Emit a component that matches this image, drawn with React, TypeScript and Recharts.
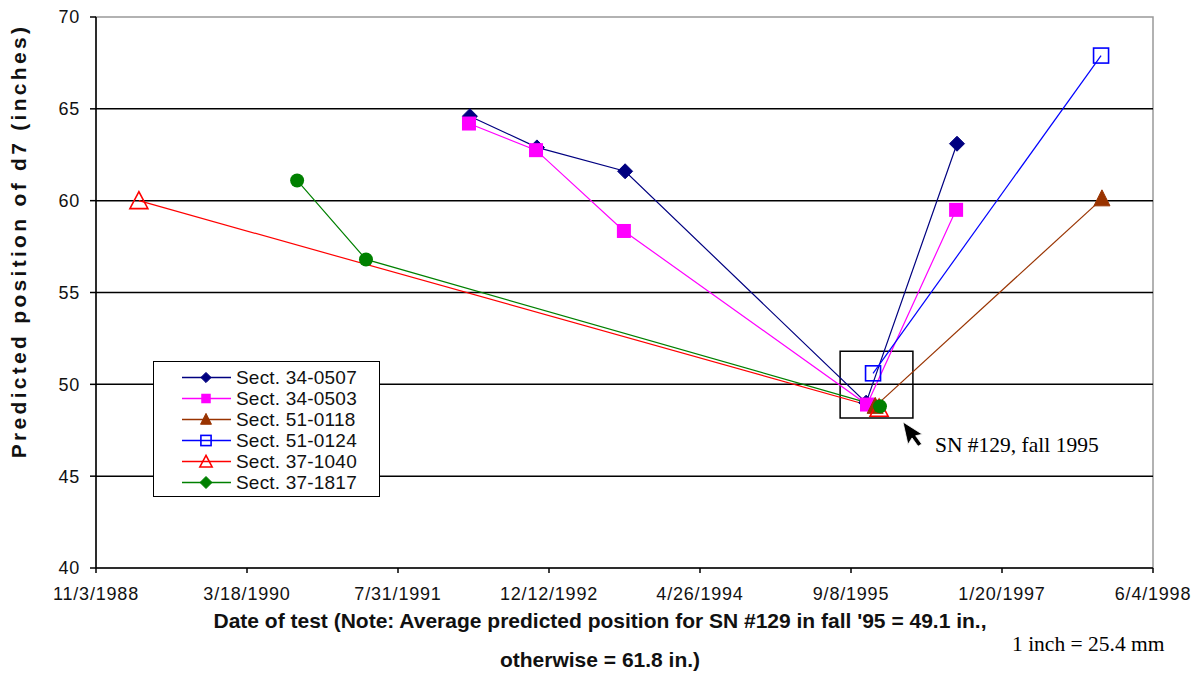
import React from 'react';
import { LineChart, Line, XAxis, YAxis, ReferenceLine, ReferenceArea, ReferenceDot, Legend } from 'recharts';

// x values are days after 11/3/1988 (axis origin)
const xTicks = [0, 500, 1000, 1500, 2000, 2500, 3000, 3500];
const xTickLabels = ['11/3/1988', '3/18/1990', '7/31/1991', '12/12/1992', '4/26/1994', '9/8/1995', '1/20/1997', '6/4/1998'];
const yTicks = [40, 45, 50, 55, 60, 65, 70];
const gridValues = [45, 50, 55, 60, 65];

const s34_0507_x = [1238, 1460, 1752, 2550, 2851];
const s34_0507_y = [64.6, 62.9, 61.6, 49.0, 63.1];
const s34_0503_x = [1235, 1457, 1748, 2553, 2848];
const s34_0503_y = [64.2, 62.75, 58.35, 48.9, 59.5];
const s51_0118_x = [2580, 3331];
const s51_0118_y = [48.8, 60.1];
const s51_0124_x = [2573, 3328];
const s51_0124_y = [50.6, 67.9];
const s37_1040_x = [142, 2593];
const s37_1040_y = [60.0, 48.7];
const s37_1817_x = [666, 894, 2596];
const s37_1817_y = [61.1, 56.8, 48.8];

const seriesNames = ['Sect. 34-0507', 'Sect. 34-0503', 'Sect. 51-0118', 'Sect. 51-0124', 'Sect. 37-1040', 'Sect. 37-1817'];
const seriesColors = ['#000080', '#FF00FF', '#993300', '#0000FF', '#FF0000', '#008000'];
const seriesMarkers = ['diamond', 'square', 'triangle', 'openSquare', 'openTriangle', 'blob'];
const seriesX = [s34_0507_x, s34_0503_x, s51_0118_x, s51_0124_x, s37_1040_x, s37_1817_x];
const seriesY = [s34_0507_y, s34_0503_y, s51_0118_y, s51_0124_y, s37_1040_y, s37_1817_y];

const series = seriesNames.map((name, i) => ({
  name,
  color: seriesColors[i],
  marker: seriesMarkers[i],
  data: seriesX[i].map((x, j) => ({ x, y: seriesY[i][j] })),
}));

function Marker({ type, cx, cy, color, s }: { type: string; cx: number; cy: number; color: string; s: number }) {
  if (type === 'diamond') {
    const r = 7.5 * s;
    return <polygon points={`${cx},${cy - r} ${cx + r},${cy} ${cx},${cy + r} ${cx - r},${cy}`} fill={color} stroke={color} />;
  }
  if (type === 'square') {
    const h = 7 * s;
    return <rect x={cx - h} y={cy - h} width={2 * h} height={2 * h} fill={color} />;
  }
  if (type === 'triangle') {
    return <polygon points={`${cx},${cy - 9 * s} ${cx + 8 * s},${cy + 7 * s} ${cx - 8 * s},${cy + 7 * s}`} fill={color} stroke={color} />;
  }
  if (type === 'openSquare') {
    const h = 7.5 * s;
    return <rect x={cx - h} y={cy - h} width={2 * h} height={2 * h} fill="none" stroke={color} strokeWidth={1.6} />;
  }
  if (type === 'openTriangle') {
    return <polygon points={`${cx},${cy - 9 * s} ${cx + 9 * s},${cy + 8 * s} ${cx - 9 * s},${cy + 8 * s}`} fill="none" stroke={color} strokeWidth={1.6} />;
  }
  if (s < 1) {
    const r = 6;
    return <polygon points={`${cx},${cy - r} ${cx + r},${cy} ${cx},${cy + r} ${cx - r},${cy}`} fill={color} stroke={color} />;
  }
  return <circle cx={cx} cy={cy} r={7} fill={color} />;
}

const makeDot = (type: string, color: string) => (props: any) => {
  const { cx, cy, index } = props;
  if (cx == null || cy == null) return <g key={`d${index}`} />;
  return <Marker key={`d${index}`} type={type} cx={cx} cy={cy} color={color} s={1} />;
};

const ArrowShape = (props: any) => {
  const { cx, cy } = props;
  if (cx == null) return <g />;
  // cursor-like arrow pointing up-left, tip at (cx, cy)
  const ang = -0.22;
  const sc = 1.35;
  const p = [
    [0, 0], [0, 17], [4, 13], [7, 20], [10, 19], [7, 12], [12, 12],
  ].map(([a, b]) => {
    const x = (a * Math.cos(ang) - b * Math.sin(ang)) * sc;
    const y = (a * Math.sin(ang) + b * Math.cos(ang)) * sc;
    return `${cx + x},${cy + y}`;
  }).join(' ');
  return <polygon points={p} fill="#000" stroke="#fff" strokeWidth={0.8} />;
};

const LegendContent = () => (
  <div style={{ width: 227, height: 136, border: '1.5px solid #000', background: '#fff', boxSizing: 'border-box', paddingTop: 5 }}>
    {series.map((s) => (
      <div key={s.name} style={{ height: 21, display: 'flex', alignItems: 'center' }}>
        <svg width={82} height={21} style={{ flex: 'none' }}>
          <line x1={28} x2={77} y1={10.5} y2={10.5} stroke={s.color} strokeWidth={1.3} />
          <Marker type={s.marker} cx={52} cy={10.5} color={s.color} s={0.68} />
        </svg>
        <span style={{ fontFamily: 'Liberation Sans, Arial, sans-serif', fontSize: 19, color: '#111', letterSpacing: 0.2, whiteSpace: 'nowrap' }}>{s.name}</span>
      </div>
    ))}
  </div>
);

const tickStyle = { fontFamily: 'Liberation Sans, Arial, sans-serif', fontSize: 18, fill: '#111', letterSpacing: 0.8 };

export default function App() {
  return (
    <div style={{ position: 'absolute', left: 0, top: 0, width: 1201, height: 674, background: '#fff', overflow: 'hidden' }}>
      <LineChart width={1201} height={674} margin={{ top: 17, right: 48, bottom: 76, left: 36 }}>
        <XAxis
          dataKey="x"
          type="number"
          domain={[0, 3500]}
          ticks={xTicks}
          tickFormatter={(v: number) => xTickLabels[xTicks.indexOf(v)] ?? ''}
          height={30}
          tickSize={5}
          tickMargin={14}
          tick={tickStyle}
          axisLine={{ stroke: '#000', strokeWidth: 1.5 }}
          tickLine={{ stroke: '#000', strokeWidth: 1.5 }}
          allowDataOverflow
        />
        <YAxis
          dataKey="y"
          type="number"
          domain={[40, 70]}
          ticks={yTicks}
          width={60}
          tickSize={6}
          tickMargin={10}
          tick={tickStyle}
          axisLine={{ stroke: '#000', strokeWidth: 1.5 }}
          tickLine={{ stroke: '#000', strokeWidth: 1.5 }}
          allowDataOverflow
        />
        <ReferenceArea x1={0} x2={3500} y1={40} y2={70} fill="none" stroke="#999" strokeWidth={1.5} />
        {gridValues.map((v) => (
          <ReferenceLine key={v} y={v} stroke="#000" strokeWidth={1.5} />
        ))}
        <Legend layout="vertical" align="center" verticalAlign="middle" content={<LegendContent />}
          wrapperStyle={{ left: 153, top: 361, width: 227, height: 136 }} />
        {series.map((s) => (
          <Line
            key={s.name}
            data={s.data}
            dataKey="y"
            name={s.name}
            type="linear"
            stroke={s.color}
            strokeWidth={1.2}
            dot={makeDot(s.marker, s.color)}
            activeDot={false}
            isAnimationActive={false}
            legendType="none"
          />
        ))}
        <ReferenceArea x1={2464} x2={2705} y1={48.17} y2={51.8} fill="none" stroke="#000" strokeWidth={1.5} ifOverflow="visible" />
        <ReferenceDot x={2672} y={47.95} shape={ArrowShape} ifOverflow="visible" />
      </LineChart>
      <div style={{ position: 'absolute', left: 935, top: 434, lineHeight: '22px', fontFamily: 'Liberation Serif, Times New Roman, serif', fontSize: 21.5, color: '#000', whiteSpace: 'nowrap' }}>
        SN #129, fall 1995
      </div>
      <div style={{ position: 'absolute', left: 1012, top: 633, lineHeight: '22px', fontFamily: 'Liberation Serif, Times New Roman, serif', fontSize: 21.5, color: '#000', whiteSpace: 'nowrap' }}>
        1 inch = 25.4 mm
      </div>
      <div style={{ position: 'absolute', left: 200, width: 800, top: 601, textAlign: 'center', fontFamily: 'Liberation Sans, Arial, sans-serif', fontWeight: 'bold', fontSize: 21, lineHeight: '39px', color: '#111', whiteSpace: 'nowrap' }}>
        Date of test (Note: Average predicted position for SN #129 in fall '95 = 49.1 in.,<br />otherwise = 61.8 in.)
      </div>
      <div style={{ position: 'absolute', left: 19, top: 241, transform: 'translate(-50%, -50%) rotate(-90deg)', fontFamily: 'Liberation Sans, Arial, sans-serif', fontWeight: 'bold', fontSize: 21, letterSpacing: 3.3, color: '#111', whiteSpace: 'nowrap' }}>
        Predicted position of d7 (inches)
      </div>
    </div>
  );
}
